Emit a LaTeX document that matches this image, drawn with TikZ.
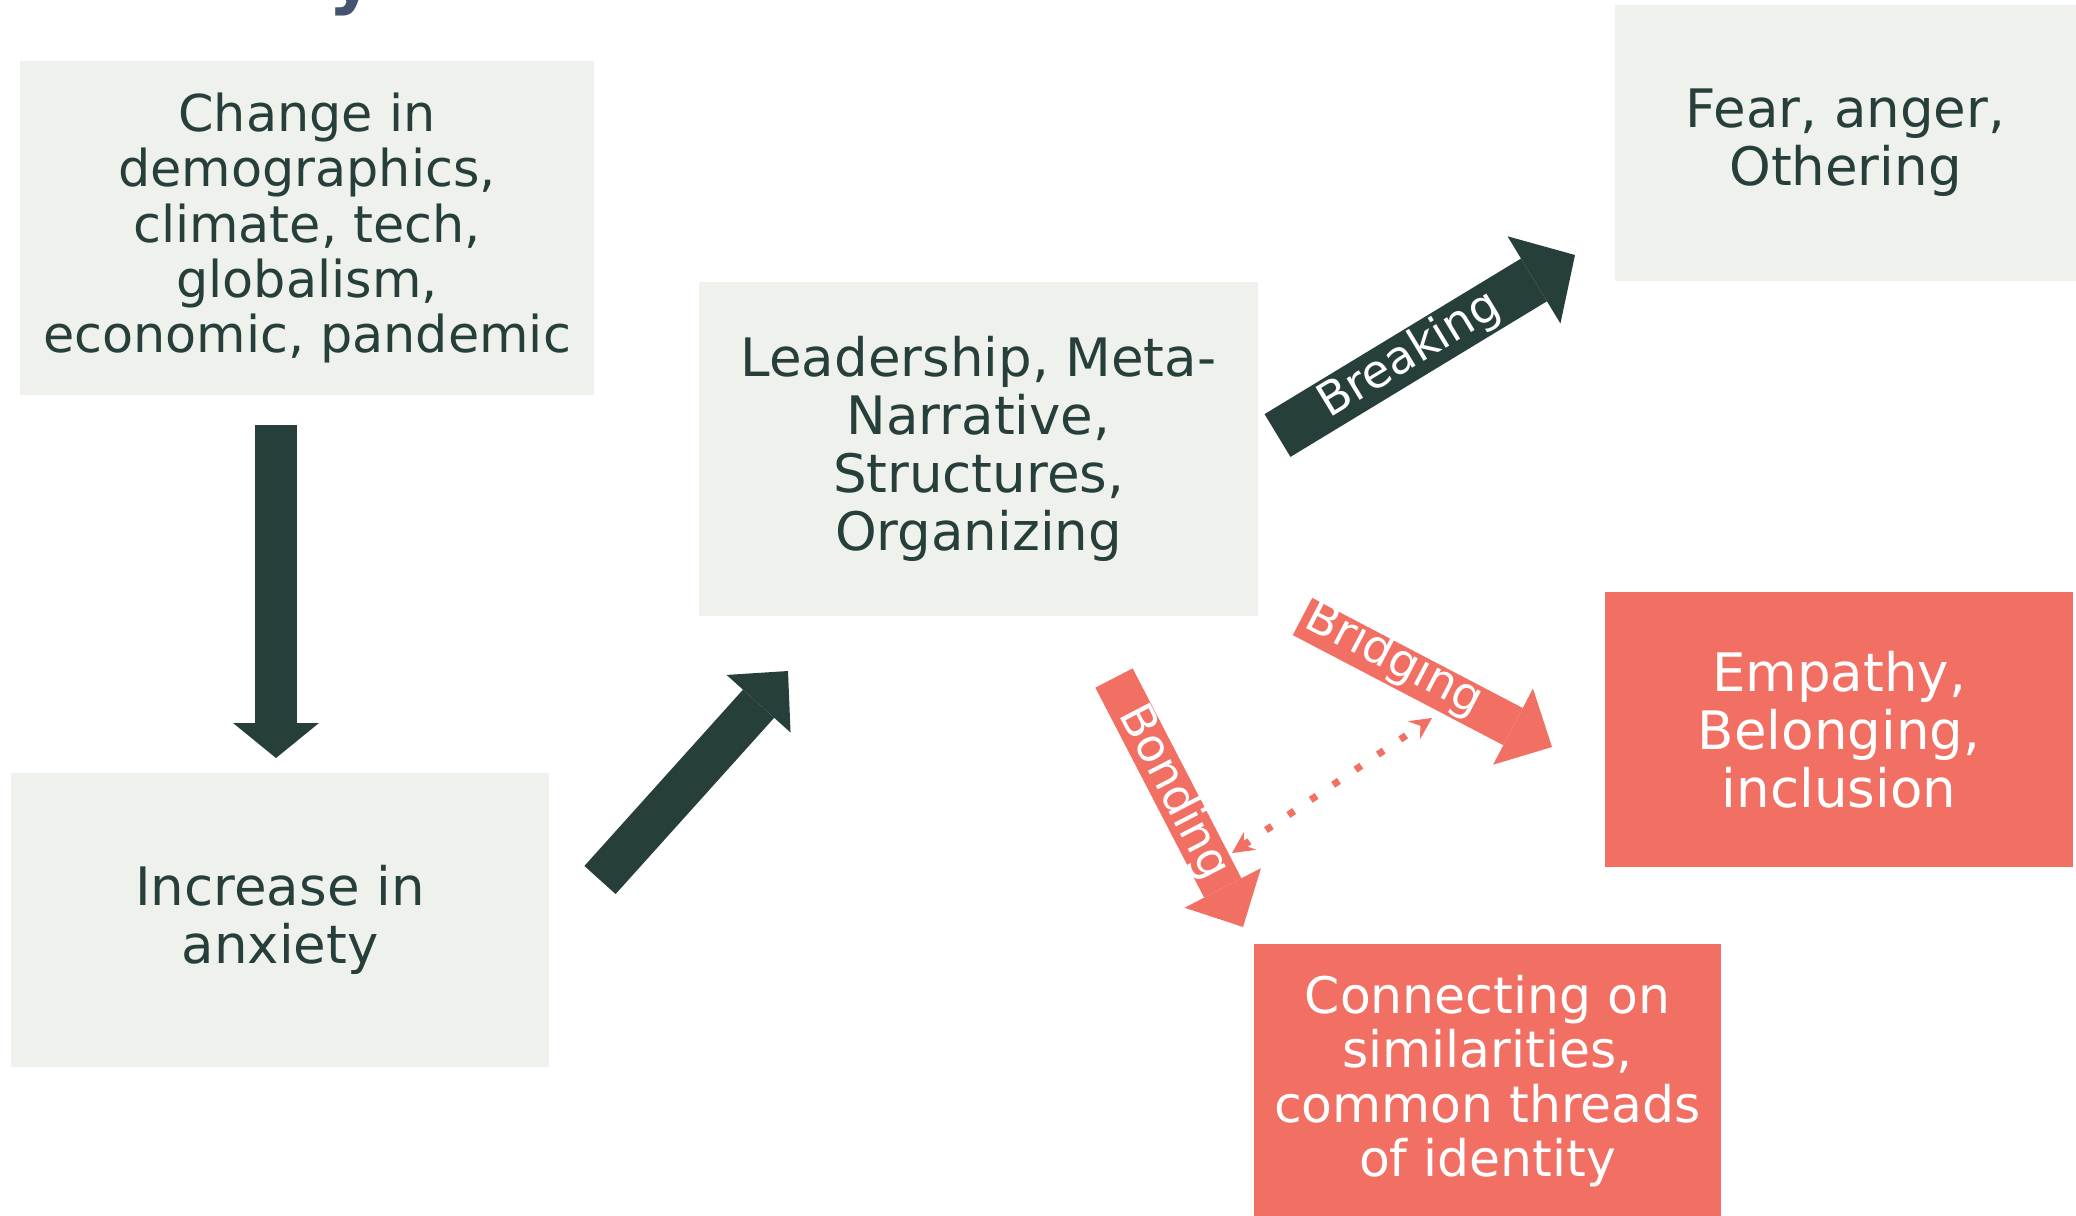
\documentclass[tikz,border=0pt]{standalone}
\usepackage{fontspec}
\setmainfont{DejaVu Sans}
\usetikzlibrary{arrows.meta,positioning}

\definecolor{pine}{HTML}{263F3A}
\definecolor{paper}{HTML}{EFF1EC}
\definecolor{coral}{HTML}{F26F63}
\definecolor{slate}{HTML}{44536E}

\begin{document}
\begin{tikzpicture}[x=0.5pt,y=-0.5pt,
    box/.style={rectangle,fill=paper,text=pine,align=center,inner sep=0mm,
        font=\fontsize{26.5}{29}\selectfont},
    hot/.style={box,fill=coral,text=white},
    push/.style={draw=pine,line width=21pt,
        -{Triangle[length=22pt,width=43pt,line width=0pt]}},
    hotpush/.style={push,draw=coral,fill=coral},
    tag/.style={text=white,inner sep=0mm,font=\fontsize{23}{25}\selectfont},
    link/.style={draw=coral,line width=3.5pt,dash pattern=on 3.5pt off 10pt,
        {Stealth[length=11pt,width=11pt,inset=4pt,line width=0pt]}-{Stealth[length=11pt,width=11pt,inset=4pt,line width=0pt]}}
]
 \useasboundingbox (0,0) rectangle (2076,1215);

 % title, cut off by the page
 \node[anchor=base west,inner sep=0mm,text=slate,font=\fontsize{36}{40}\selectfont\bfseries] (title) at (328,0) {y};

 \node[box,font=\fontsize{25.4}{27.6}\selectfont,minimum width=287pt,minimum height=167pt] (change) at (307,228)
    {Change in\\demographics,\\climate, tech,\\globalism,\\economic, pandemic};
 \node[box,minimum width=269pt,minimum height=147pt] (anxiety) at (280,920) {Increase in\\anxiety};
 \node[box,minimum width=279.5pt,minimum height=167pt] (leader) at (978.5,449)
    {Leadership, Meta-\\Narrative,\\Structures,\\Organizing};
 \node[box,minimum width=230.5pt,minimum height=138pt] (fear) at (1845.5,143) {Fear, anger,\\Othering};
 \node[hot,minimum width=234pt,minimum height=137.5pt] (empathy) at (1839,729.5) {Empathy,\\Belonging,\\inclusion};
 \node[hot,font=\fontsize{25.2}{27.3}\selectfont,minimum width=233.5pt,minimum height=137pt] (connect) at (1487.5,1081)
    {Connecting on\\similarities,\\common threads\\of identity};

 \coordinate (down tail) at (276,425);
 \coordinate (down tip) at (276,758);
 \coordinate (rise tail) at (600,880);
 \coordinate (rise tip) at (788,671);
 \coordinate (break tail) at (1277.5,435.5);
 \coordinate (break tip) at (1575,255);
 \coordinate (bridge tail) at (1302.5,616.5);
 \coordinate (bridge tip) at (1552,747);
 \coordinate (bond tail) at (1114,678);
 \coordinate (bond tip) at (1243,927);
 \coordinate (link a) at (1232,853);
 \coordinate (link b) at (1432,718);

 \draw[push,-{Triangle[length=17.5pt,width=43pt,line width=0pt]}] (down tail) -- (down tip);
 \draw[push] (rise tail) -- (rise tip);
 \draw[push,line width=25pt,-{Triangle[length=24pt,width=51pt,line width=0pt]}] (break tail) --
    node[tag,sloped,pos=0.445] {Breaking} (break tip);
 \draw[hotpush] (bridge tail) -- node[tag,sloped,pos=0.36,yshift=2pt] {Bridging} (bridge tip);
 \draw[hotpush] (bond tail) -- node[tag,sloped,pos=0.46] {Bonding} (bond tip);
 \draw[link] (link a) -- (link b);
\end{tikzpicture}
\end{document}
